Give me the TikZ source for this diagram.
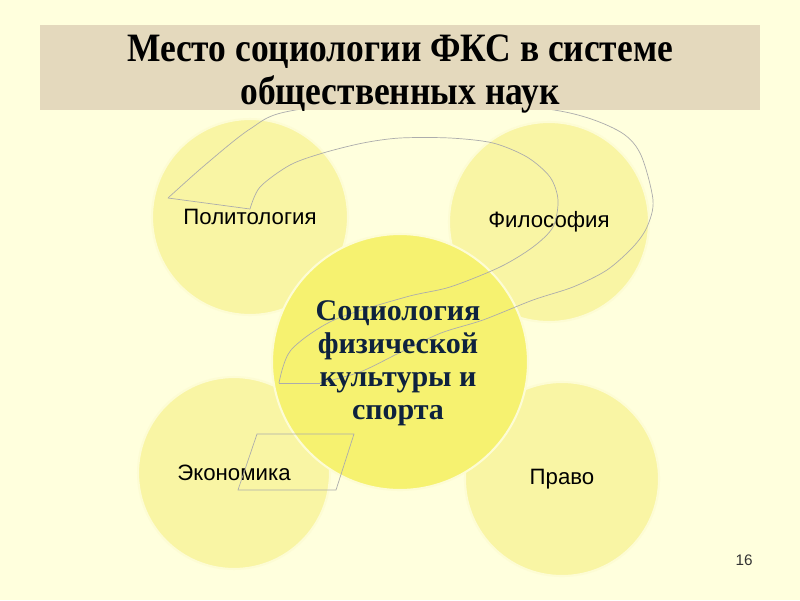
\documentclass[tikz,border=0pt]{standalone}
\usepackage{fontspec}
\setmainfont{Liberation Serif}
\newfontfamily\labelfont{Liberation Sans}
\newfontfamily\titlefont[FakeStretch=0.88]{Liberation Serif}

\definecolor{bgYellow}{RGB}{255,255,221}
\definecolor{paper}{RGB}{228,217,189}
\definecolor{paleDisc}{RGB}{249,245,164}
\definecolor{brightDisc}{RGB}{246,242,112}
\definecolor{rimColor}{RGB}{253,252,212}
\definecolor{inkBlue}{RGB}{14,34,62}

\tikzstyle{disc}=[circle,inner sep=0pt,fill=paleDisc,draw=rimColor,line width=1.5pt,font=\labelfont\fontsize{16}{19}\selectfont]
\tikzstyle{bright}=[fill=brightDisc]
\tikzstyle{swirlStyle}=[gray!65,line width=0.5pt]
\tikzstyle{band}=[rectangle,inner sep=0pt,fill=paper,minimum width=518.4pt,minimum height=61.9pt]

\begin{document}
\begin{tikzpicture}[x=0.72pt, y=-0.72pt]

	% Hintergrund
	\fill[bgYellow] (0,0) rectangle (800,600);

	% Kreise
	\node(polit) at (250,217) [disc, minimum size=141.1pt] {Политология};
	\node(philo) at (549,222) [disc, minimum size=144pt] {Философия};
	\node(econ) at (234,473) [disc, minimum size=138.2pt] {Экономика};
	\node(law) at (562,479) [disc, minimum size=139.7pt] {Право};
	\node(socio) at (400,362) [disc, bright, minimum size=184.3pt] {};

	% Spirale
	\draw[swirlStyle] plot[smooth] coordinates {(168,198) (205,165) (250,129) (290,111) (425,96) (560,111) (617,130) (640,153) (653,200) (647,227) (633,247) (607,270) (573,287) (533,300) (483,320) (441,333) (399,353) (360,372) (320,383)};
	\draw[swirlStyle] plot[smooth] coordinates {(250,209) (260,187) (290,165) (323,153) (363,143) (400,138) (450,138) (493,143) (527,157) (550,177) (558,200) (553,227) (533,247) (500,267) (450,287) (406,297) (334,320) (291,350) (279,383)};
	\draw[swirlStyle] (168,198) -- (250,209);
	\draw[swirlStyle] (279,383) -- (320,383);
	\draw[swirlStyle] (257,434) -- (354,434) -- (336,490) -- (238,490) -- cycle;

	\node(socioText) at (398,363) [align=center, text=inkBlue, font=\bfseries\fontsize{21.6}{23.8}\selectfont] {Социология\\физической\\культуры и\\спорта};

	% Titel
	\node(band) at (400,67.5) [band] {};
	\node(title) at (400,74) [align=center, font=\titlefont\bfseries\fontsize{29}{31}\selectfont] {Место социологии ФКС в системе\\общественных наук};

	\node(pageNum) at (744,560) [font=\labelfont\fontsize{11}{13}\selectfont, text=black!80] {16};

\end{tikzpicture}
\end{document}
